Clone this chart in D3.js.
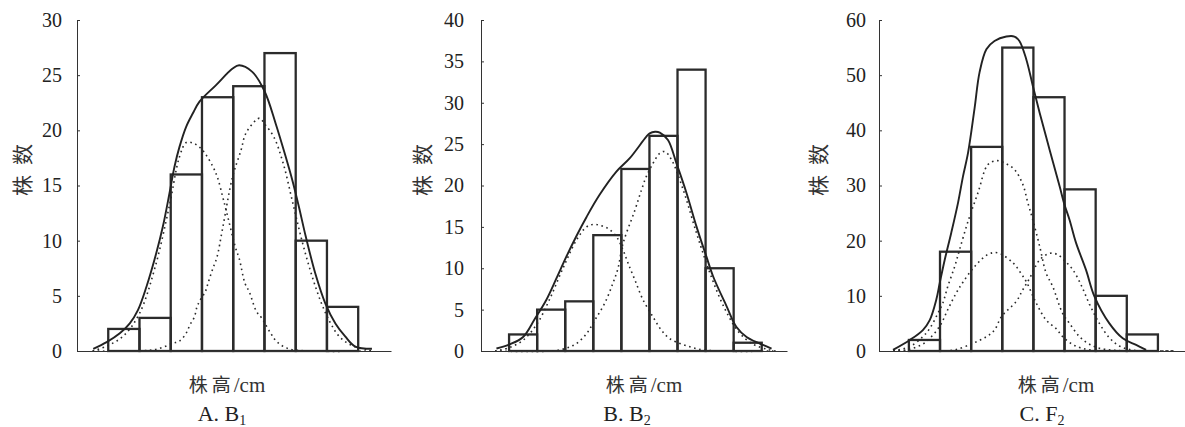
<!DOCTYPE html>
<html>
<head>
<meta charset="utf-8">
<script src="https://cdn.jsdelivr.net/npm/d3@7"></script>
<style>
  body { margin: 0; background: #fff; }
  svg { display: block; }
</style>
</head>
<body>
<div id="chart"></div>
<script>
// observed counts (株数) per height class, left to right along 株高
const barsB1 = [2, 3, 16, 23, 24, 27, 10, 4]
const barsB2 = [2, 5, 6, 14, 22, 26, 34, 10, 1]
const barsF2 = [2, 18, 37, 55, 46, 29.3, 10, 3]

const ticksB1 = [0, 5, 10, 15, 20, 25, 30]
const ticksB2 = [0, 5, 10, 15, 20, 25, 30, 35, 40]
const ticksF2 = [0, 10, 20, 30, 40, 50, 60]

// curves, x in bin units (bin i spans i..i+1), y in 株数
const fitB1 = [[-0.48, 0.2], [-0.05, 0.8], [0.37, 1.6], [0.69, 2.5], [0.95, 3.7], [1.22, 5.8], [1.54, 8.9], [1.75, 11.3], [1.96, 14.3], [2.12, 16.7], [2.28, 18.5], [2.49, 20.3], [2.7, 21.5], [2.92, 22.6], [3.45, 24.1], [3.98, 25.6], [4.19, 25.9], [4.61, 25.3], [5.01, 23.5], [5.36, 20.6], [5.68, 17.6], [5.89, 15.5], [6.1, 13.1], [6.32, 10.4], [6.63, 7.0], [6.95, 4.3], [7.27, 2.5], [7.59, 1.3], [7.91, 0.4], [8.44, 0.2]]
const compB1a = [[-0.5, 0], [0, 0.5], [0.5, 1.4], [1.0, 3.4], [1.5, 7.6], [1.96, 13.2], [2.28, 17.6], [2.5, 18.9], [2.75, 18.8], [3.02, 18.2], [3.35, 16.7], [3.5, 15.7], [3.66, 14.0], [3.77, 12.8], [4.08, 9.3], [4.19, 8.4], [4.38, 6.1], [4.51, 5.4], [4.74, 3.6], [4.91, 3.0], [5.2, 1.6], [5.41, 0.8], [5.78, 0.2], [6.5, 0], [8.5, 0]]
const compB1b = [[-0.5, 0], [1.0, 0], [1.6, 0.2], [2.07, 0.7], [2.28, 0.9], [2.49, 1.6], [2.62, 2.4], [2.76, 3.1], [2.84, 4.0], [2.94, 4.6], [3.11, 5.4], [3.18, 6.0], [3.29, 7.0], [3.39, 7.8], [3.48, 8.5], [3.66, 11.1], [3.98, 15.8], [4.25, 18.2], [4.4, 19.7], [4.72, 20.9], [4.85, 21.1], [5.0, 20.6], [5.3, 19.4], [5.6, 17.0], [5.9, 13.5], [6.2, 10.0], [6.5, 7.0], [6.8, 4.5], [7.1, 2.6], [7.4, 1.3], [7.8, 0.5], [8.3, 0.1], [8.5, 0]]

const fitB2 = [[-0.45, 0.3], [0.02, 0.8], [0.5, 1.7], [0.92, 3.9], [1.33, 6.2], [1.69, 8.8], [2.04, 11.4], [2.4, 13.9], [2.76, 16.2], [3.23, 18.9], [3.83, 21.7], [4.3, 23.3], [4.89, 25.9], [5.01, 26.3], [5.2, 26.5], [5.37, 26.4], [5.66, 25.5], [5.96, 22.7], [6.32, 19.1], [6.68, 15.0], [7.03, 11.4], [7.27, 9.0], [7.75, 5.4], [8.1, 2.9], [8.46, 1.7], [8.93, 0.9], [9.35, 0.3]]
const compB2a = [[-0.5, 0], [0, 0.4], [0.5, 1.3], [1.0, 3.3], [1.45, 6.3], [1.92, 10.0], [2.4, 13.4], [2.76, 15.0], [3.0, 15.3], [3.23, 15.2], [3.53, 14.8], [3.83, 13.8], [4.06, 12.2], [4.24, 10.6], [4.48, 8.6], [4.77, 6.2], [5.13, 4.1], [5.43, 2.5], [5.72, 1.5], [6.26, 0.7], [7.0, 0.1], [9.5, 0]]
const compB2b = [[-0.5, 0], [1.5, 0], [2.0, 0.3], [2.4, 0.9], [2.76, 2.1], [3.05, 3.7], [3.41, 5.8], [3.7, 8.2], [3.88, 10.0], [4.06, 13.0], [4.48, 17.0], [4.72, 19.5], [4.89, 21.1], [5.13, 22.7], [5.37, 23.9], [5.55, 24.1], [5.79, 23.1], [6.2, 19.5], [6.7, 14.0], [7.2, 9.0], [7.7, 5.0], [8.2, 2.2], [8.7, 0.8], [9.2, 0.2], [9.5, 0]]

const fitF2 = [[-0.51, 0.2], [0.03, 2.0], [0.45, 3.8], [0.67, 5.6], [0.88, 9.3], [0.99, 12.3], [1.15, 16.5], [1.36, 21.4], [1.58, 26.9], [1.74, 31.7], [1.9, 35.9], [2.11, 44.0], [2.27, 50.5], [2.49, 54.7], [2.75, 56.2], [3.13, 57.0], [3.39, 57.0], [3.55, 56.2], [3.77, 52.9], [3.98, 48.1], [4.2, 43.2], [4.52, 36.5], [4.84, 29.9], [5.0, 26.5], [5.16, 23.8], [5.37, 19.6], [5.69, 14.7], [5.96, 9.9], [6.44, 5.0], [6.87, 2.3], [7.3, 1.1], [7.62, 0.2]]
const compF2a = [[-0.5, 0], [0, 0.3], [0.51, 1.5], [0.99, 4.5], [1.25, 7.5], [1.52, 10.5], [1.74, 12.5], [2.11, 15.3], [2.54, 17.5], [2.85, 17.8], [3.34, 16.0], [3.61, 14.0], [3.77, 12.6], [4.09, 8.7], [4.41, 5.6], [4.74, 4.0], [4.94, 2.6], [5.32, 1.0], [5.8, 0.2], [6.5, 0], [8.5, 0]]
const compF2b = [[-0.5, 0], [0.03, 0.8], [0.45, 2.6], [0.67, 4.1], [0.93, 6.8], [1.09, 8.7], [1.25, 11.7], [1.47, 15.3], [1.63, 18.4], [1.9, 23.5], [2.22, 28.7], [2.54, 33.8], [2.82, 34.5], [3.07, 34.1], [3.39, 32.9], [3.66, 30.2], [3.82, 26.9], [3.98, 23.8], [4.2, 19.0], [4.41, 14.1], [4.62, 11.7], [4.94, 6.8], [5.16, 5.0], [5.48, 2.6], [5.75, 1.4], [6.12, 0.5], [7.0, 0], [8.5, 0]]
const compF2c = [[-0.5, 0], [1.0, 0], [1.47, 0.2], [2.06, 1.4], [2.49, 2.6], [2.75, 3.8], [2.97, 6.2], [3.45, 9.0], [3.66, 11.1], [3.88, 13.2], [4.2, 16.5], [4.52, 17.7], [4.77, 17.5], [5.03, 16.2], [5.26, 14.8], [5.53, 12.0], [5.8, 8.5], [6.12, 5.0], [6.44, 2.4], [6.76, 0.9], [7.15, 0.2], [7.6, 0], [8.5, 0]]

const titles = [['A. B', '1'], ['B. B', '2'], ['C. F', '2']]
const yLabel = '株数'
const xLabelCjk = '株高'
const xLabelUnit = '/cm'

const width = 1185
const height = 427
const baseY = 351
const topY = 20
const ink = '#222'

// panel layout (pixel positions only)
const panels = [
  { bars: barsB1, ticks: ticksB1, fit: fitB1, comps: [compB1a, compB1b], title: titles[0],
    left: 77, right: 391, xDomain: [-1, 9.05], pad: 15, yLabelX: 21, xLabelX: 227, titleX: 222 },
  { bars: barsB2, ticks: ticksB2, fit: fitB2, comps: [compB2a, compB2b], title: titles[1],
    left: 481, right: 787, xDomain: [-1, 9.9], pad: 17, yLabelX: 421, xLabelX: 644, titleX: 627 },
  { bars: barsF2, ticks: ticksF2, fit: fitF2, comps: [compF2a, compF2b, compF2c], title: titles[2],
    left: 879, right: 1185, xDomain: [-0.96, 8.87], pad: 13, yLabelX: 817, xLabelX: 1056, titleX: 1042 }
]

const svg = d3.select('#chart').append('svg')
  .attr('width', width)
  .attr('height', height)
  .style('font-family', "'Liberation Serif', 'Noto Sans CJK SC', serif")

svg.append('rect').attr('width', width).attr('height', height).attr('fill', '#fff')

panels.forEach(p => drawPanel(svg, p))

function drawPanel(svg, p) {
  let x = d3.scaleLinear().domain(p.xDomain).range([p.left, p.right])
  let y = d3.scaleLinear().domain([0, d3.max(p.ticks)]).range([baseY, topY])
  let g = svg.append('g')

  // histogram bars
  g.selectAll('.bar').data(p.bars).enter().append('rect')
    .attr('class', 'bar')
    .attr('x', (d, i) => x(i))
    .attr('y', d => y(d))
    .attr('width', (d, i) => x(i + 1) - x(i))
    .attr('height', d => baseY - y(d))
    .attr('fill', 'none')
    .attr('stroke', '#2b2b2b')
    .attr('stroke-width', 2.3)

  let line = d3.line()
    .x(d => x(d[0]))
    .y(d => Math.min(baseY, y(d[1])))
    .curve(d3.curveCatmullRom.alpha(0.5))

  // component distributions (dotted)
  g.selectAll('.comp').data(p.comps).enter().append('path')
    .attr('class', 'comp')
    .attr('d', line)
    .attr('fill', 'none')
    .attr('stroke', '#2a2a2a')
    .attr('stroke-width', 1.6)
    .attr('stroke-dasharray', '1.6,3.6')

  // fitted mixture (solid)
  g.append('path')
    .attr('d', line(p.fit))
    .attr('fill', 'none')
    .attr('stroke', ink)
    .attr('stroke-width', 1.9)

  // y axis, ticks pointing inward
  g.append('g')
    .attr('transform', `translate(${p.left},0)`)
    .call(d3.axisLeft(y).tickValues(p.ticks).tickSize(-3).tickSizeOuter(0).tickPadding(p.pad))
    .attr('font-family', "'Liberation Serif', serif")
    .attr('font-size', 20)
    .attr('color', '#333')
    .call(g => g.selectAll('.tick text').attr('fill', ink))

  // x axis, baseline only
  g.append('g')
    .attr('transform', `translate(0,${baseY})`)
    .call(d3.axisBottom(x).tickValues([]).tickSizeOuter(0))
    .attr('color', '#333')

  g.append('text')
    .attr('transform', `translate(${p.yLabelX},170) rotate(-90)`)
    .attr('text-anchor', 'middle')
    .attr('dominant-baseline', 'central')
    .attr('font-family', "'Noto Sans CJK SC'")
    .attr('font-size', 21)
    .attr('textLength', 52)
    .attr('lengthAdjust', 'spacing')
    .attr('fill', '#333')
    .text(yLabel)

  let xl = g.append('text')
    .attr('x', p.xLabelX)
    .attr('y', 392)
    .attr('text-anchor', 'middle')
    .attr('font-size', 21)
    .attr('fill', '#333')
  xl.append('tspan').attr('font-family', "'Noto Sans CJK SC'").attr('font-size', 19)
    .attr('letter-spacing', 4).text(xLabelCjk)
  xl.append('tspan').attr('dx', -1).text(xLabelUnit)

  let t = g.append('text')
    .attr('x', p.titleX)
    .attr('y', 421)
    .attr('text-anchor', 'middle')
    .attr('font-size', 22)
    .attr('fill', ink)
  t.append('tspan').text(p.title[0])
  t.append('tspan').attr('dy', 4).attr('font-size', 14).text(p.title[1])
}
</script>
</body>
</html>
